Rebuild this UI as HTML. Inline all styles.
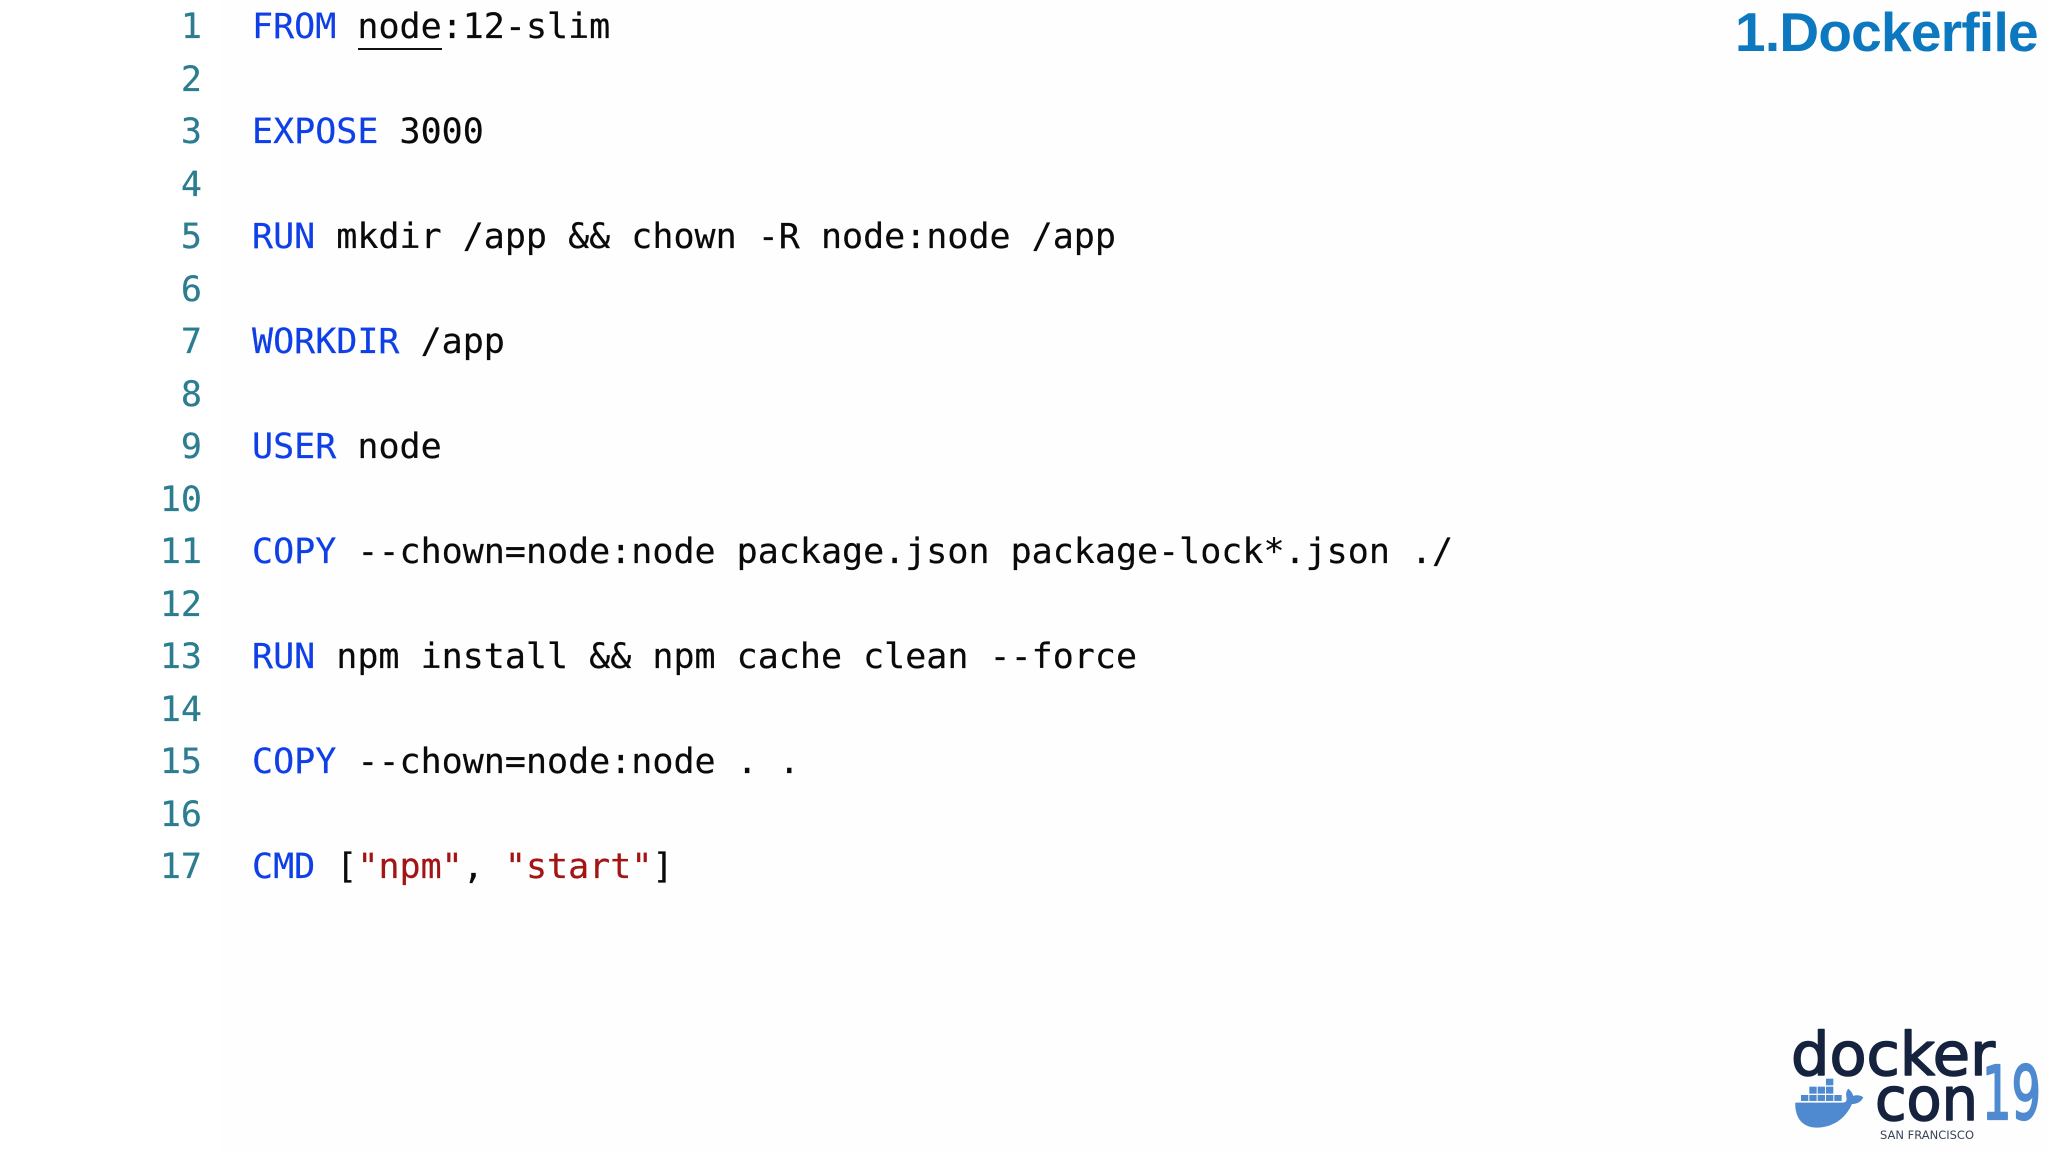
<!DOCTYPE html>
<html>
<head>
<meta charset="utf-8">
<style>
html,body{margin:0;padding:0;background:#fff;}
body{width:2048px;height:1152px;position:relative;overflow:hidden;}
#panel{position:absolute;left:222px;top:0;width:1826px;height:1152px;background:#fefefe;}
.l{position:absolute;left:0;height:52px;white-space:pre;font:35px/52px "DejaVu Sans Mono","Liberation Mono",monospace;color:#0a0a0a;filter:blur(.35px);-webkit-text-stroke:.2px currentColor;}
.n{position:absolute;width:202px;text-align:right;left:0;color:#2c7d90;}
.c{position:absolute;left:252px;}
.k{color:#0f3fe6;}
.s{color:#a31515;}
#u{position:absolute;left:358px;top:48px;width:84px;height:2px;background:#111;}
#t{position:absolute;left:1735px;top:2px;font:bold 55px/60px "Liberation Sans",Arial,sans-serif;letter-spacing:-.75px;color:#0b78bf;white-space:pre;filter:blur(.3px);}
svg{position:absolute;left:0;top:0;}
</style>
</head>
<body>
<div id="panel"></div>
<div class="l" style="top:1px"><span class="n">1</span><span class="c"><span class="k">FROM</span> node:12-slim</span></div>
<div class="l" style="top:53.5px"><span class="n">2</span></div>
<div class="l" style="top:106px"><span class="n">3</span><span class="c"><span class="k">EXPOSE</span> 3000</span></div>
<div class="l" style="top:158.5px"><span class="n">4</span></div>
<div class="l" style="top:211px"><span class="n">5</span><span class="c"><span class="k">RUN</span> mkdir /app &amp;&amp; chown -R node:node /app</span></div>
<div class="l" style="top:263.5px"><span class="n">6</span></div>
<div class="l" style="top:316px"><span class="n">7</span><span class="c"><span class="k">WORKDIR</span> /app</span></div>
<div class="l" style="top:368.5px"><span class="n">8</span></div>
<div class="l" style="top:421px"><span class="n">9</span><span class="c"><span class="k">USER</span> node</span></div>
<div class="l" style="top:473.5px"><span class="n">10</span></div>
<div class="l" style="top:526px"><span class="n">11</span><span class="c"><span class="k">COPY</span> --chown=node:node package.json package-lock*.json ./</span></div>
<div class="l" style="top:578.5px"><span class="n">12</span></div>
<div class="l" style="top:631px"><span class="n">13</span><span class="c"><span class="k">RUN</span> npm install &amp;&amp; npm cache clean --force</span></div>
<div class="l" style="top:683.5px"><span class="n">14</span></div>
<div class="l" style="top:736px"><span class="n">15</span><span class="c"><span class="k">COPY</span> --chown=node:node . .</span></div>
<div class="l" style="top:788.5px"><span class="n">16</span></div>
<div class="l" style="top:841px"><span class="n">17</span><span class="c"><span class="k">CMD</span> [<span class="s">"npm"</span>, <span class="s">"start"</span>]</span></div>
<div id="u"></div>
<div id="t">1.Dockerfile</div>
<svg width="2048" height="1152" viewBox="0 0 2048 1152">
  <g font-family="'DejaVu Sans',sans-serif" fill="#15233f" stroke="#15233f" stroke-width="1.6" stroke-linejoin="round">
    <text x="1791" y="1075" font-size="60" textLength="204" lengthAdjust="spacingAndGlyphs">docker</text>
    <text x="1875" y="1120" font-size="60" textLength="103" lengthAdjust="spacingAndGlyphs">con</text>
  </g>
  <text x="1982" y="1119" font-family="'DejaVu Sans',sans-serif" font-size="74" fill="#4f8ad0" stroke="#4f8ad0" stroke-width="2.2" stroke-linejoin="round" textLength="59" lengthAdjust="spacingAndGlyphs">19</text>
  <text x="1880" y="1139" font-family="'DejaVu Sans',sans-serif" font-size="11.5" fill="#3a4558" textLength="94" lengthAdjust="spacingAndGlyphs">SAN FRANCISCO</text>
  <g transform="translate(1700,980) scale(0.3333)" fill="#4f8ad0">
    <rect x="303" y="345" width="22" height="18"/>
    <rect x="328" y="345" width="22" height="18"/>
    <rect x="353" y="345" width="22" height="18"/>
    <rect x="378" y="345" width="22" height="18"/>
    <rect x="403" y="345" width="22" height="18"/>
    <rect x="328" y="320" width="22" height="21"/>
    <rect x="353" y="320" width="22" height="21"/>
    <rect x="378" y="320" width="22" height="21"/>
    <rect x="378" y="296" width="22" height="20"/>
    <path d="M286 368 L428 368 C438 368 442 362 439 350 C437 338 441 330 445 326 C452 332 458 340 460 348 C470 344 482 346 490 352 C484 366 470 372 456 372 C442 404 410 442 350 443 C305 443 284 410 286 368 Z"/>
  </g>
</svg>
</body>
</html>
